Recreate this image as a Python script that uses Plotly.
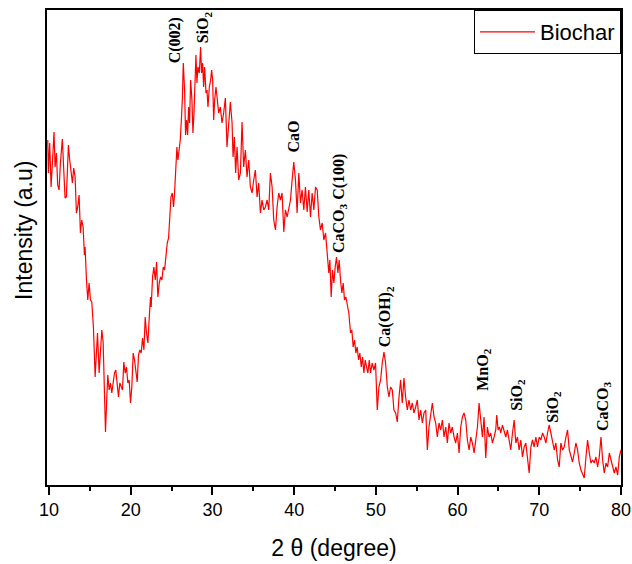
import plotly.graph_objects as go

# 2-theta (degree) and intensity (a.u.)
two_theta = [
    9.84, 9.92, 10.08, 10.25, 10.41, 10.61, 10.74, 10.90, 11.06, 11.23, 11.39, 11.63, 11.80, 11.96, 12.12,
    12.37, 12.53, 12.70, 12.86, 13.02, 13.19, 13.35, 13.51, 13.68, 13.84, 14.00, 14.17, 14.33, 14.41, 14.58,
    14.74, 14.90, 15.07, 15.23, 15.43, 15.64, 15.76, 15.93, 16.13, 16.29, 16.46, 16.62, 16.78, 16.91, 17.07,
    17.19, 17.36, 17.52, 17.68, 17.85, 18.01, 18.17, 18.34, 18.50, 18.66, 18.83, 18.99, 19.15, 19.32, 19.48,
    19.64, 19.81, 19.97, 20.13, 20.30, 20.46, 20.62, 20.79, 20.95, 21.11, 21.28, 21.44, 21.61, 21.77, 21.93,
    22.10, 22.26, 22.42, 22.50, 22.67, 22.83, 23.00, 23.16, 23.32, 23.49, 23.65, 23.81, 23.98, 24.14, 24.30,
    24.47, 24.63, 24.79, 24.92, 25.08, 25.24, 25.36, 25.53, 25.65, 25.77, 25.94, 26.06, 26.18, 26.31, 26.43,
    26.59, 26.71, 26.84, 26.96, 27.08, 27.20, 27.33, 27.49, 27.61, 27.74, 27.86, 27.98, 28.10, 28.22, 28.39,
    28.55, 28.67, 28.80, 28.92, 29.04, 29.21, 29.33, 29.45, 29.62, 29.78, 29.90, 30.02, 30.15, 30.27, 30.43,
    30.60, 30.76, 30.96, 31.17, 31.37, 31.58, 31.78, 31.99, 32.19, 32.40, 32.52, 32.68, 32.84, 33.01, 33.21,
    33.42, 33.62, 33.82, 34.03, 34.23, 34.44, 34.64, 34.85, 35.05, 35.25, 35.46, 35.66, 35.87, 36.07, 36.28,
    36.48, 36.69, 36.89, 37.09, 37.30, 37.50, 37.71, 37.91, 38.11, 38.32, 38.52, 38.73, 38.93, 39.14, 39.34,
    39.55, 39.75, 39.95, 40.16, 40.36, 40.57, 40.77, 40.97, 41.18, 41.38, 41.59, 41.79, 42.00, 42.20, 42.41,
    42.61, 42.82, 43.02, 43.22, 43.43, 43.63, 43.84, 44.04, 44.24, 44.37, 44.53, 44.69, 44.86, 45.02, 45.18,
    45.35, 45.51, 45.67, 45.84, 46.00, 46.16, 46.33, 46.49, 46.69, 46.90, 47.06, 47.22, 47.39, 47.55, 47.71,
    47.88, 48.04, 48.21, 48.37, 48.53, 48.70, 48.86, 49.02, 49.19, 49.35, 49.55, 49.76, 49.96, 50.17, 50.37,
    50.58, 50.78, 50.99, 51.19, 51.40, 51.60, 51.80, 52.01, 52.21, 52.42, 52.62, 52.83, 53.03, 53.23, 53.44,
    53.64, 53.85, 54.05, 54.26, 54.46, 54.66, 54.87, 55.07, 55.28, 55.48, 55.69, 55.89, 56.10, 56.30, 56.50,
    56.71, 56.91, 57.12, 57.32, 57.52, 57.73, 57.93, 58.14, 58.34, 58.55, 58.75, 58.95, 59.16, 59.36, 59.57,
    59.77, 59.98, 60.18, 60.39, 60.59, 60.79, 61.00, 61.20, 61.41, 61.61, 61.81, 62.02, 62.22, 62.43, 62.63,
    62.83, 63.04, 63.24, 63.45, 63.65, 63.85, 64.06, 64.26, 64.47, 64.67, 64.79, 64.96, 65.12, 65.29, 65.49,
    65.69, 65.90, 66.10, 66.31, 66.51, 66.72, 66.92, 67.13, 67.33, 67.53, 67.74, 67.94, 68.15, 68.35, 68.56,
    68.76, 68.97, 69.17, 69.37, 69.58, 69.78, 69.99, 70.19, 70.40, 70.60, 70.81, 71.01, 71.21, 71.42, 71.62,
    71.83, 72.03, 72.24, 72.44, 72.64, 72.85, 73.05, 73.26, 73.46, 73.67, 73.87, 74.07, 74.28, 74.48, 74.69,
    74.89, 75.10, 75.30, 75.50, 75.71, 75.91, 76.12, 76.32, 76.53, 76.73, 76.93, 77.14, 77.34, 77.55, 77.75,
    77.95, 78.16, 78.36, 78.57, 78.77, 78.98, 79.18, 79.38, 79.59, 79.79, 80.00,
]
intensity = [
    345, 312, 342, 298, 322, 353, 318, 332, 300, 295, 322, 346, 315, 287, 288,
    340, 325, 310, 302, 317, 308, 272, 278, 290, 252, 265, 258, 230, 238, 205,
    185, 202, 185, 183, 158, 108, 125, 152, 112, 135, 155, 143, 82, 53, 88,
    110, 95, 102, 92, 105, 112, 115, 102, 88, 102, 98, 95, 123, 112, 118,
    102, 105, 82, 98, 132, 125, 115, 103, 130, 135, 132, 147, 135, 168, 152,
    142, 167, 188, 178, 208, 218, 205, 223, 188, 202, 208, 205, 218, 215, 228,
    242, 247, 265, 288, 292, 278, 292, 318, 338, 325, 335, 345, 363, 385, 422,
    395, 350, 365, 350, 378, 362, 405, 385, 352, 372, 412, 430, 402, 418, 412,
    438, 412, 422, 398, 418, 392, 395, 378, 398, 405, 415, 405, 365, 385, 398,
    385, 372, 378, 362, 372, 387, 338, 358, 383, 362, 328, 348, 312, 338, 305,
    312, 363, 318, 335, 308, 325, 298, 292, 305, 315, 288, 302, 272, 285, 275,
    278, 285, 275, 312, 298, 265, 255, 278, 292, 285, 292, 253, 275, 268, 275,
    285, 305, 323, 305, 272, 312, 282, 295, 275, 298, 273, 295, 268, 292, 275,
    298, 295, 268, 255, 262, 245, 252, 235, 212, 225, 188, 215, 202, 218, 228,
    212, 225, 205, 192, 202, 185, 188, 182, 172, 152, 155, 138, 145, 132, 138,
    125, 132, 118, 128, 112, 125, 118, 112, 125, 112, 122, 115, 122, 75, 98,
    105, 122, 133, 122, 98, 88, 98, 95, 75, 72, 63, 88, 105, 82, 107,
    88, 75, 85, 75, 82, 72, 78, 85, 65, 75, 62, 72, 75, 35, 58,
    72, 82, 68, 62, 48, 62, 55, 65, 48, 58, 42, 62, 52, 58, 48,
    42, 52, 32, 58, 68, 72, 65, 45, 35, 48, 42, 32, 45, 58, 82,
    62, 48, 68, 27, 58, 48, 52, 42, 48, 55, 70, 55, 58, 52, 60,
    55, 48, 55, 45, 35, 52, 65, 42, 48, 35, 45, 28, 38, 42, 25,
    12, 38, 45, 38, 48, 38, 48, 45, 52, 48, 42, 52, 60, 52, 42,
    35, 42, 25, 18, 42, 35, 38, 48, 55, 35, 28, 23, 32, 42, 35,
    22, 15, 10, 7, 28, 45, 32, 22, 25, 22, 28, 18, 28, 48, 25,
    12, 22, 18, 32, 25, 18, 12, 18, 10, 28, 35,
]

# Peak labels
peak_labels = ["C(002)", "SiO<sub>2</sub>", "CaO", "CaCO<sub>3</sub> C(100)", "Ca(OH)<sub>2</sub>",
               "MnO<sub>2</sub>", "SiO<sub>2</sub>", "SiO<sub>2</sub>", "CaCO<sub>3</sub>"]
peak_x = [25.45, 28.88, 39.8, 45.55, 51.2, 63.08, 67.25, 71.66, 77.8]
peak_y = [420, 440, 330, 230, 136, 92, 72, 60, 52]

x_ticks = [10, 20, 30, 40, 50, 60, 70, 80]

fig = go.Figure()
fig.add_trace(go.Scatter(
    x=two_theta, y=intensity, mode="lines", name="Biochar",
    line=dict(color="#ff0000", width=1.2),
))

for lab, px, py in zip(peak_labels, peak_x, peak_y):
    fig.add_annotation(
        x=px, y=py, xref="x", yref="y", text="<b>" + lab + "</b>",
        textangle=-90, showarrow=False, xanchor="center", yanchor="bottom",
        font=dict(family="Liberation Serif", size=16, color="black"),
    )

fig.add_annotation(
    x=-0.04, y=0.535, xref="paper", yref="paper", text="Intensity (a.u)",
    textangle=-90, showarrow=False, xanchor="center", yanchor="middle",
    font=dict(family="Liberation Sans", size=23, color="black"),
)

fig.update_layout(
    width=632, height=564,
    margin=dict(l=47, r=11, t=10, b=79, autoexpand=False),
    paper_bgcolor="white", plot_bgcolor="white",
    font=dict(family="Liberation Sans", color="black"),
    showlegend=True,
    legend=dict(
        x=1, y=1, xanchor="right", yanchor="top",
        bordercolor="black", borderwidth=1, bgcolor="white",
        font=dict(size=22, family="Liberation Sans"),
        itemwidth=55, tracegroupgap=0,
    ),
    xaxis=dict(
        range=[9.75, 80], tickvals=x_ticks, automargin=False,
        showline=True, linecolor="black", linewidth=1.5, mirror=True,
        ticks="outside", ticklen=8, tickwidth=1.5, tickcolor="black",
        minor=dict(dtick=5, ticks="outside", ticklen=4, tickwidth=1.5, tickcolor="black"),
        tickfont=dict(size=18), showgrid=False, zeroline=False,
        title=dict(text="2 θ (degree)", font=dict(size=23), standoff=21),
    ),
    yaxis=dict(
        range=[0, 475], showline=True, linecolor="black", linewidth=1.5, mirror=True,
        showticklabels=False, ticks="", showgrid=False, zeroline=False, automargin=False,
    ),
)

fig.write_html("out.html")
